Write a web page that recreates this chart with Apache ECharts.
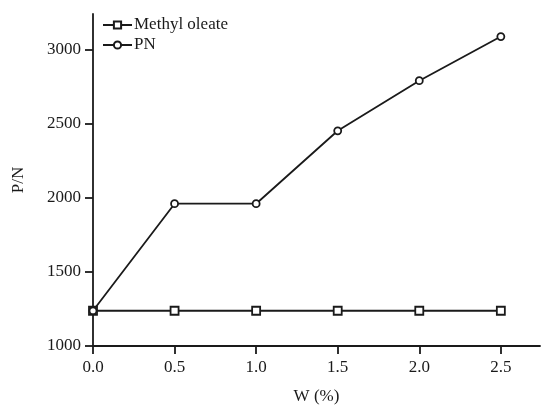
<!DOCTYPE html>
<html><head><meta charset="utf-8">
<script src="https://cdn.jsdelivr.net/npm/echarts@6/dist/echarts.min.js"></script>
<style>html,body{margin:0;padding:0;background:#fff}#c{width:541px;height:410px}</style>
</head><body><div id="c"></div>
<script>
const xValues = [0, 0.5, 1.0, 1.5, 2.0, 2.5];
const methylOleate = [1238, 1238, 1238, 1238, 1238, 1238];
const pn = [1238, 1960, 1960, 2452, 2790, 3088];
const xTicks = [0, 0.5, 1.0, 1.5, 2.0, 2.5];
const yTicks = [1000, 1500, 2000, 2500, 3000];
const seriesNames = ['Methyl oleate', 'PN'];

const font = 'Liberation Serif, Times New Roman, serif';
const chart = echarts.init(document.getElementById('c'), null, {renderer: 'canvas'});
const axisStyle = {lineStyle: {color: '#1a1a1a', width: 1.8}};
chart.setOption({
  animation: false,
  backgroundColor: '#fff',
  grid: {left: 93, right: 1, top: 14, bottom: 60, containLabel: false},
  legend: {
    orient: 'vertical', left: 97, top: 11, itemWidth: 29, itemHeight: 9, itemGap: 2,
    textStyle: {fontFamily: font, fontSize: 17, color: '#1a1a1a', padding: [0,0,0,-3], lineHeight: 18},
    data: seriesNames
  },
  xAxis: {
    type: 'value', min: 0, max: 2.74,
    name: 'W (%)', nameLocation: 'middle', nameGap: 42,
    nameTextStyle: {fontFamily: font, fontSize: 17, color: '#1a1a1a'},
    axisLine: axisStyle,
    axisTick: {show: true, length: 8, lineStyle: {color: '#1a1a1a', width: 1.8}, customValues: xTicks},
    axisLabel: {fontFamily: font, fontSize: 17, color: '#1a1a1a', margin: 13, customValues: xTicks,
      formatter: v => v.toFixed(1)},
    splitLine: {show: false}
  },
  yAxis: {
    type: 'value', min: 1000, max: 3240,
    name: 'P/N', nameLocation: 'middle', nameGap: 66, nameRotate: 90,
    nameTextStyle: {fontFamily: font, fontSize: 17, color: '#1a1a1a'},
    axisLine: {show: true, lineStyle: {color: '#1a1a1a', width: 1.8}},
    axisTick: {show: true, length: 8, lineStyle: {color: '#1a1a1a', width: 1.8}, customValues: yTicks},
    axisLabel: {fontFamily: font, fontSize: 17, color: '#1a1a1a', margin: 12, customValues: yTicks,
      formatter: v => String(v)},
    splitLine: {show: false}
  },
  series: [
    {
      name: seriesNames[0], type: 'line', data: xValues.map((x, i) => [x, methylOleate[i]]),
      symbol: 'rect', symbolSize: 8,
      lineStyle: {color: '#1a1a1a', width: 1.8},
      itemStyle: {color: '#fff', borderColor: '#1a1a1a', borderWidth: 1.8}
    },
    {
      name: seriesNames[1], type: 'line', data: xValues.map((x, i) => [x, pn[i]]),
      symbol: 'circle', symbolSize: 7,
      lineStyle: {color: '#1a1a1a', width: 1.8},
      itemStyle: {color: '#fff', borderColor: '#1a1a1a', borderWidth: 1.8}
    }
  ]
});
</script></body></html>
